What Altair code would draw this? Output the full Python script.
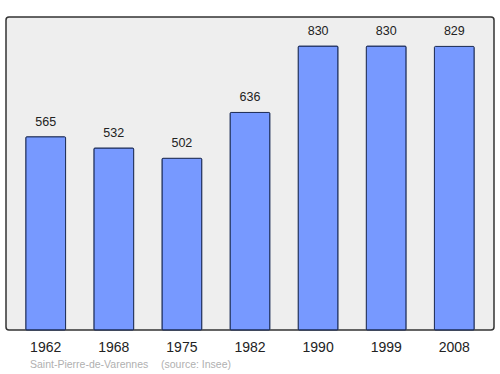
import altair as alt
import pandas as pd

years = ["1962", "1968", "1975", "1982", "1990", "1999", "2008"]
population = [565, 532, 502, 636, 830, 830, 829]
commune = "Saint-Pierre-de-Varennes"
source = "(source: Insee)"

df = pd.DataFrame({"year": years, "pop": population})
note1 = pd.DataFrame({"t": [commune]})
note2 = pd.DataFrame({"t": [source]})

x = alt.X("year:N", sort=years, title=None,
          scale=alt.Scale(paddingInner=0.415, paddingOuter=0.29),
          axis=alt.Axis(labelAngle=0, labelFontSize=14, labelColor="#222",
                        labelFont="Liberation Sans", ticks=False, domain=False,
                        labelPadding=10))
y = alt.Y("pop:Q", scale=alt.Scale(domain=[0, 915], nice=False), axis=None)

bars = alt.Chart(df).mark_bar(color="#7799ff", stroke="#1a2a55", strokeWidth=1,
                              cornerRadius=1).encode(x=x, y=y)
labels = alt.Chart(df).mark_text(dy=-8, baseline="bottom", fontSize=12.5,
                                 font="Liberation Sans", color="#222").encode(
    x=x, y=y, text="pop:Q")
foot1 = alt.Chart(note1).mark_text(align="left", baseline="middle", fontSize=10.5,
                                   font="Liberation Sans", color="#b0b0b0").encode(
    x=alt.value(24), y=alt.value(348), text="t:N")
foot2 = alt.Chart(note2).mark_text(align="left", baseline="middle", fontSize=10.5,
                                   font="Liberation Sans", color="#b0b0b0").encode(
    x=alt.value(155), y=alt.value(348), text="t:N")

chart = alt.layer(bars, labels, foot1, foot2).properties(
    width=488, height=313,
    autosize=alt.AutoSizeParams(type="none"),
    padding={"left": 6, "top": 17, "right": 6, "bottom": 44},
    background="white",
).configure_view(fill="#eeeeee", stroke="#333333", strokeWidth=1.5, cornerRadius=3)

chart.save("out.html", embed_options={"renderer": "svg", "actions": False})
